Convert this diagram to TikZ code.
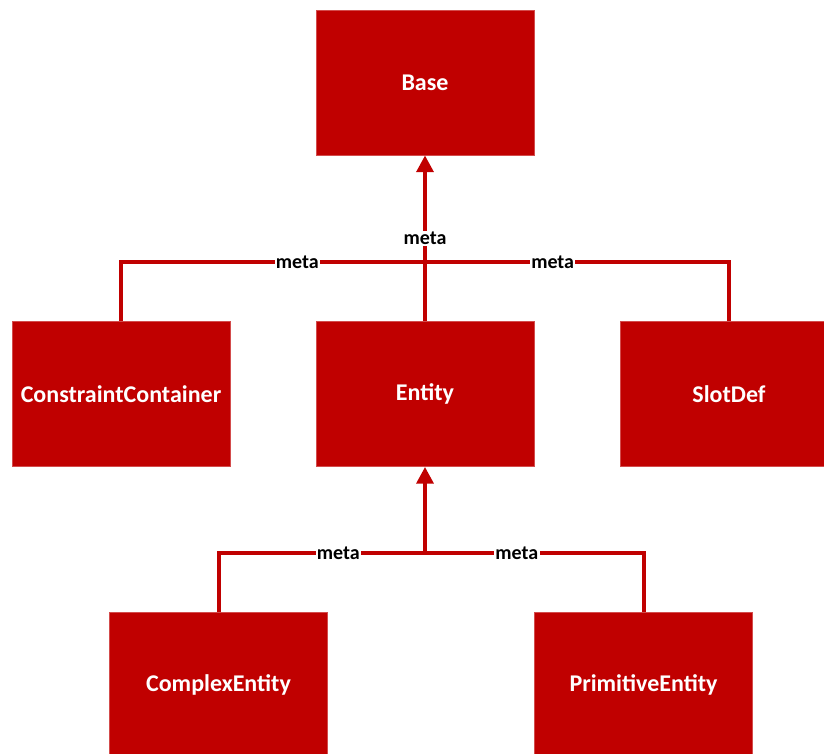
\documentclass[tikz,border=0pt]{standalone}
\usepackage{fontspec}
\setmainfont{Carlito}
\usetikzlibrary{arrows.meta}
\definecolor{boxred}{RGB}{192,0,0}

\begin{document}
\begin{tikzpicture}[line cap=butt,line join=miter,x=0.75pt,y=-0.75pt,
  box/.style={fill=boxred,draw=boxred!70!white,line width=0.6pt,minimum width=218*0.75pt,minimum height=145*0.75pt,inner sep=0pt,text=white,font=\fontsize{18}{22}\selectfont\bfseries},
  link/.style={draw=boxred,line width=3pt},
  tip/.style={-{Triangle[width=12.5pt,length=12.5pt]}},
  lbl/.style={fill=white,inner sep=1pt,text=black,font=\fontsize{15}{18}\selectfont\bfseries}]
\useasboundingbox (0,0) rectangle (824,753);
% boxes
\node[box] (base) at (425,82.5) {Base};
\node[box] (cc) at (121,394) {ConstraintContainer};
\node[box] (entity) at (425,394) {Entity};
\node[box] (slot) at (729,394) {SlotDef};
\node[box] (complex) at (218.5,685) {ComplexEntity};
\node[box] (prim) at (643.5,685) {PrimitiveEntity};
\coordinate (hub) at (425,262);
\coordinate (hubb) at (425,553);
% meta links
\draw[link] (cc.north) |- node[lbl,pos=0.79] {meta} (hub);
\draw[link] (slot.north) |- node[lbl,pos=0.79] {meta} (hub);
\draw[link,tip] (entity.north) -- node[lbl] {meta} (base.south);
\draw[link] (complex.north) |- node[lbl,pos=0.79] {meta} (hubb);
\draw[link] (prim.north) |- node[lbl,pos=0.79] {meta} (hubb);
\draw[link,tip] (hubb) -- (entity.south);
\end{tikzpicture}
\end{document}
